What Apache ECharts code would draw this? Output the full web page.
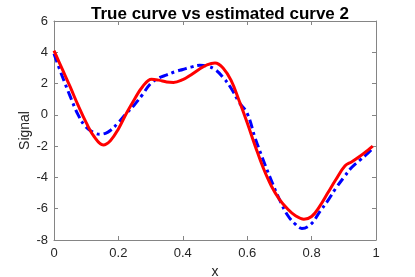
<!DOCTYPE html>
<html>
<head>
<meta charset="utf-8">
<script src="https://cdn.jsdelivr.net/npm/echarts@6/dist/echarts.min.js"></script>
<style>html,body{margin:0;padding:0;background:#fff;}#c{width:415px;height:277px;}</style>
</head>
<body>
<div id="c"></div>
<script>
const titleText = 'True curve vs estimated curve 2';
const xName = 'x';
const yName = 'Signal';
const xTicks = [0, 0.2, 0.4, 0.6, 0.8, 1];
const yTicks = [-8, -6, -4, -2, 0, 2, 4, 6];

const trueX = [0, 0.025, 0.05, 0.075, 0.1, 0.125, 0.153, 0.175, 0.2, 0.225, 0.25, 0.275, 0.303, 0.325, 0.35, 0.371, 0.4, 0.425, 0.45, 0.475, 0.5, 0.525, 0.55, 0.575, 0.6, 0.625, 0.65, 0.675, 0.7, 0.725, 0.75, 0.776, 0.8, 0.825, 0.85, 0.875, 0.904, 0.925, 0.95, 0.975, 0.99];
const trueY = [4.1, 2.95, 1.8, 0.6, -0.5, -1.4, -1.92, -1.65, -0.9, 0.1, 1.0, 1.8, 2.28, 2.22, 2.1, 2.07, 2.25, 2.55, 2.9, 3.2, 3.32, 3.0, 2.2, 0.9, -0.5, -2.0, -3.4, -4.55, -5.4, -6.0, -6.45, -6.67, -6.5, -5.85, -5.0, -4.15, -3.26, -3.0, -2.65, -2.25, -2.0];

const estX = [0, 0.025, 0.05, 0.075, 0.1, 0.125, 0.143, 0.16, 0.175, 0.2, 0.225, 0.25, 0.275, 0.3, 0.325, 0.35, 0.375, 0.4, 0.425, 0.453, 0.475, 0.5, 0.525, 0.55, 0.575, 0.6, 0.625, 0.65, 0.675, 0.7, 0.725, 0.75, 0.77, 0.8, 0.825, 0.85, 0.875, 0.9, 0.925, 0.95, 0.975, 0.985];
const estY = [3.9, 2.5, 1.2, 0.0, -0.8, -1.15, -1.24, -1.18, -1.0, -0.5, 0.1, 0.65, 1.3, 2.0, 2.35, 2.55, 2.75, 2.9, 3.05, 3.17, 3.12, 2.9, 2.4, 1.7, 0.8, 0.1, -1.5, -2.9, -4.2, -5.4, -6.4, -7.0, -7.26, -6.95, -6.2, -5.5, -4.7, -4.0, -3.35, -2.9, -2.45, -2.25];

const pair = (xs, ys) => xs.map((v, i) => [v, ys[i]]);
const axisCol = '#262626';
const lineCol = '#858585';
const fontFam = '"Liberation Sans", Arial, Helvetica, sans-serif';

const chart = echarts.init(document.getElementById('c'));
chart.setOption({
  animation: false,
  backgroundColor: '#fff',
  title: {
    text: titleText, left: 215, textAlign: 'center', top: 1,
    textStyle: { fontFamily: fontFam, fontSize: 17, fontWeight: 'bold', color: '#000' }
  },
  grid: { left: 54, right: 39, top: 21, bottom: 37, show: false, outerBoundsMode: 'none', containLabel: false },
  xAxis: [{
    type: 'value', min: xTicks[0], max: xTicks[xTicks.length - 1], interval: 0.2,
    name: xName, nameLocation: 'middle', nameGap: 25, nameMoveOverlap: false,
    nameTextStyle: { fontFamily: fontFam, fontSize: 14, color: axisCol },
    axisLine: { show: true, onZero: false, lineStyle: { color: lineCol, width: 1 } },
    axisTick: { show: true, inside: true, length: 4, lineStyle: { color: lineCol } },
    axisLabel: { fontFamily: fontFam, fontSize: 13, color: axisCol, margin: 7 },
    splitLine: { show: false }
  }, {
    type: 'value', position: 'top', min: 0, max: 1, interval: 0.2,
    axisLine: { show: true, onZero: false, lineStyle: { color: lineCol, width: 1 } },
    axisTick: { show: true, inside: true, length: 4, lineStyle: { color: lineCol } },
    axisLabel: { show: false }, splitLine: { show: false }
  }],
  yAxis: [{
    type: 'value', min: yTicks[0], max: yTicks[yTicks.length - 1], interval: 2,
    name: yName, nameLocation: 'middle', nameGap: 22, nameMoveOverlap: false,
    nameTextStyle: { fontFamily: fontFam, fontSize: 14, color: axisCol },
    axisLine: { show: true, onZero: false, lineStyle: { color: lineCol, width: 1 } },
    axisTick: { show: true, inside: true, length: 4, lineStyle: { color: lineCol } },
    axisLabel: { fontFamily: fontFam, fontSize: 13, color: axisCol, margin: 6 },
    splitLine: { show: false }
  }, {
    type: 'value', position: 'right', min: -8, max: 6, interval: 2,
    axisLine: { show: true, onZero: false, lineStyle: { color: lineCol, width: 1 } },
    axisTick: { show: true, inside: true, length: 4, lineStyle: { color: lineCol } },
    axisLabel: { show: false }, splitLine: { show: false }
  }],
  series: [{
    name: 'estimated', type: 'line', data: pair(estX, estY), smooth: 0.4, showSymbol: false,
    lineStyle: { color: '#0000ff', width: 3, type: [9, 4, 3, 4] }, z: 2
  }, {
    name: 'true', type: 'line', data: pair(trueX, trueY), smooth: 0.4, showSymbol: false,
    lineStyle: { color: '#ff0000', width: 3 }, z: 3
  }]
});
</script>
</body>
</html>
